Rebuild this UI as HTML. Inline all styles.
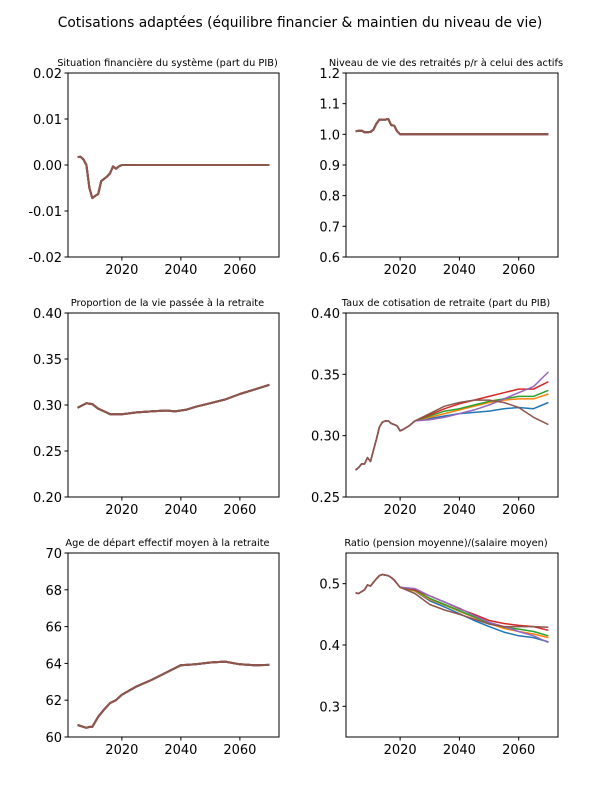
<!DOCTYPE html>
<html><head><meta charset="utf-8"><style>
body{margin:0;background:#fff;}
svg{display:block;font-family:"DejaVu Sans","Liberation Sans",sans-serif;}
</style></head><body>
<svg id="fig" width="600" height="800">
<rect width="600" height="800" fill="#fff"/>
<text x="300" y="27" font-size="13.8" text-anchor="middle" fill="#000">Cotisations adaptées (équilibre financier &amp; maintien du niveau de vie)</text>
</svg>
<script>
const colors=['#1f77b4','#ff7f0e','#2ca02c','#d62728','#9467bd','#8c564b'];
const finYears=[2005,2006,2007,2008,2009,2010,2011,2012,2013,2014,2015,2016,2017,2018,2019,2020,2070];
const finVals=[0.0017,0.0018,0.0012,0.0000,-0.005,-0.0072,-0.0067,-0.0063,-0.0035,-0.003,-0.0025,-0.0018,-0.0003,-0.0008,-0.0003,0,0];
const nivYears=[2005,2006,2007,2008,2009,2010,2011,2012,2013,2014,2015,2016,2017,2018,2019,2020,2070];
const nivVals=[1.01,1.012,1.012,1.007,1.007,1.008,1.015,1.035,1.048,1.048,1.048,1.05,1.03,1.028,1.01,1.0,1.0];
const propYears=[2005,2008,2010,2012,2014,2016,2020,2025,2030,2035,2038,2042,2045,2050,2055,2060,2065,2070];
const propVals=[0.297,0.302,0.301,0.296,0.293,0.290,0.290,0.292,0.293,0.294,0.293,0.295,0.298,0.302,0.306,0.312,0.317,0.322];
const ageYears=[2005,2007,2008,2009,2010,2012,2014,2016,2018,2020,2025,2030,2035,2040,2045,2050,2055,2060,2065,2070];
const ageVals=[60.65,60.55,60.5,60.55,60.55,61.1,61.5,61.85,62.0,62.3,62.75,63.1,63.5,63.9,63.95,64.05,64.1,63.95,63.9,63.92];
const tauxHistYears=[2005,2006,2007,2008,2009,2010,2011,2012,2013,2014,2015,2016,2017,2018,2019,2020,2021,2023];
const tauxHistVals=[0.272,0.274,0.277,0.277,0.282,0.279,0.288,0.297,0.307,0.311,0.312,0.312,0.310,0.309,0.308,0.304,0.305,0.308];
const futYears=[2025,2030,2035,2040,2045,2050,2055,2060,2065,2070];
const tauxBlue=[.312,.314,.316,.318,.319,.320,.322,.323,.322,.327];
const tauxOrange=[.312,.315,.318,.321,.324,.327,.329,.330,.330,.334];
const tauxGreen=[.312,.316,.320,.322,.325,.328,.330,.332,.332,.337];
const tauxRed=[.312,.317,.322,.326,.329,.332,.335,.338,.338,.344];
const tauxPurple=[.312,.313,.315,.318,.321,.325,.330,.335,.340,.352];
const tauxBrown=[.312,.318,.324,.327,.329,.329,.327,.323,.315,.309];
const ratioHistYears=[2005,2006,2007,2008,2009,2010,2011,2012,2013,2014,2015,2016,2017,2018,2019,2020];
const ratioHistVals=[.485,.484,.487,.49,.498,.496,.502,.508,.513,.515,.514,.513,.510,.506,.500,.494];
const ratioBlue=[.488,.472,.462,.451,.440,.430,.421,.415,.412,.405];
const ratioOrange=[.488,.474,.465,.455,.445,.435,.427,.422,.418,.412];
const ratioGreen=[.489,.476,.466,.456,.446,.436,.429,.426,.422,.415];
const ratioRed=[.490,.480,.470,.459,.450,.440,.435,.432,.430,.424];
const ratioPurple=[.492,.480,.470,.460,.448,.437,.430,.422,.415,.404];
const ratioBrown=[.484,.466,.457,.450,.442,.434,.430,.430,.430,.429];
const xTicks=[2020,2040,2060];
const t1=[-0.02,-0.01,0.00,0.01,0.02], t2=[0.6,0.7,0.8,0.9,1.0,1.1,1.2], t3=[0.20,0.25,0.30,0.35,0.40], t4=[0.25,0.30,0.35,0.40], t5=[60,62,64,66,68,70], t6=[0.3,0.4,0.5];

const NS='http://www.w3.org/2000/svg';
const svg=document.getElementById('fig');
function mk(tag,attrs,parent){const e=document.createElementNS(NS,tag);for(const k in attrs)e.setAttribute(k,attrs[k]);(parent||svg).appendChild(e);return e;}
const X0=2001.75,X1=2073.25;
function panel(name,title,L,T,R,B,ymin,ymax,ticks,dec,series){
  const g=mk('g',{});
  
  
  const sx=v=>L+(v-X0)/(X1-X0)*(R-L);
  const sy=v=>B-(v-ymin)/(ymax-ymin)*(B-T);
  const tt=mk('text',{x:(L+R)/2-6,y:T-7,'font-size':'9.8','text-anchor':'middle',fill:'#000'},g);
  tt.textContent=title;
  
  
  series.forEach((s,i)=>{
    const pts=s.x.map((x,j)=>sx(x).toFixed(1)+','+sy(s.y[j]).toFixed(1)).join(' ');
    const pl=mk('polyline',{points:pts,fill:'none',stroke:s.c,'stroke-width':s.w||1.5,'stroke-linejoin':'round'},g);
    
    
  });
  const fr=mk('rect',{x:L,y:T,width:R-L,height:B-T,fill:'none',stroke:'#000','stroke-width':1},g);
  
  
  xTicks.forEach(v=>{
    const x=sx(v);
    mk('line',{x1:x,y1:B,x2:x,y2:B+3.5,stroke:'#000'},g);
    const t=mk('text',{x:x,y:B+17,'font-size':'13','text-anchor':'middle',fill:'#000'},g);
    t.textContent=v;
    
    
  });
  ticks.forEach(v=>{
    const y=sy(v);
    mk('line',{x1:L-3.5,y1:y,x2:L,y2:y,stroke:'#000'},g);
    const t=mk('text',{x:L-6,y:y+5,'font-size':'13','text-anchor':'end',fill:'#000'},g);
    t.textContent=v.toFixed(dec);
    
    
  });
}
function same(xs,ys){return colors.map(c=>({x:xs,y:ys,c:c,w:2}));}
function diverge(hx,hy,futs,w){return futs.map((f,i)=>({x:hx.concat(futYears),y:hy.concat(f),c:colors[i],w:w}));}
const LL=68,LR=279,RL=346,RR=558;
panel('panel-situation-financiere','Situation financière du système (part du PIB)',LL,73,LR,257,-0.02,0.02,t1,2,same(finYears,finVals));
panel('panel-niveau-de-vie','Niveau de vie des retraités p/r à celui des actifs',RL,73,RR,257,0.6,1.2,t2,1,same(nivYears,nivVals));
panel('panel-proportion-retraite','Proportion de la vie passée à la retraite',LL,313,LR,497,0.20,0.40,t3,2,same(propYears,propVals));
panel('panel-taux-cotisation','Taux de cotisation de retraite (part du PIB)',RL,313,RR,497,0.25,0.40,t4,2,diverge(tauxHistYears,tauxHistVals,[tauxBlue,tauxOrange,tauxGreen,tauxRed,tauxPurple,tauxBrown],1.5));
panel('panel-age-depart','Age de départ effectif moyen à la retraite',LL,553,LR,737,60,70,t5,0,same(ageYears,ageVals));
panel('panel-ratio-pension','Ratio (pension moyenne)/(salaire moyen)',RL,553,RR,737,0.25,0.55,t6,1,diverge(ratioHistYears,ratioHistVals,[ratioBlue,ratioOrange,ratioGreen,ratioRed,ratioPurple,ratioBrown],1.5));
</script>
</body></html>
